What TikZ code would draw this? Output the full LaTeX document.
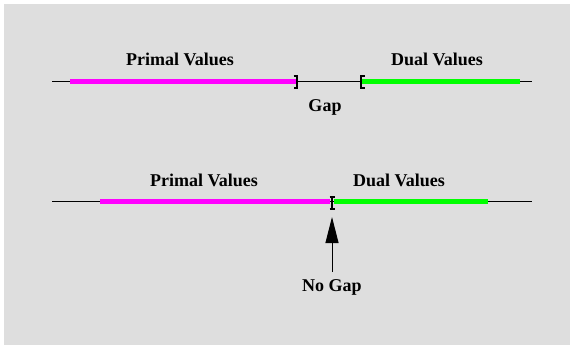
\documentclass[tikz,border=0pt]{standalone}
\usepackage{fontspec}
\setmainfont{Liberation Serif}
\usetikzlibrary{arrows.meta}
\definecolor{bg}{RGB}{222,222,222}
\definecolor{prim}{RGB}{255,0,255}
\definecolor{dualc}{RGB}{0,255,0}
\begin{document}
\begin{tikzpicture}[x=1pt,y=-1pt,
  lbl/.style={font=\fontsize{18}{20}\selectfont\bfseries, inner sep=0pt, text=black},
  axis/.style={draw=black, line width=1.5pt},
  primseg/.style={draw=prim, line width=5pt},
  dualseg/.style={draw=dualc, line width=5pt},
  brk/.style={draw=black, line width=2pt}]
\useasboundingbox (0,0) rectangle (570,345);
\fill[bg] (4,4) rectangle (570,345);
% top line
\coordinate (a1) at (52,81.5);
\coordinate (a2) at (532,81.5);
\coordinate (p1) at (70,81.5);
\coordinate (p2) at (296,81.5);
\coordinate (d1) at (362,81.5);
\coordinate (d2) at (520,81.5);
\draw[axis] (a1) -- (a2);
\draw[primseg] (p1) -- (p2);
\draw[dualseg] (d1) -- (d2);
\draw[brk] (293.5,76) -- (297,76) -- (297,88) -- (293.5,88);
\draw[brk] (364.5,76) -- (361,76) -- (361,88) -- (364.5,88);
\node[lbl] (pv1) at (180,59) {Primal Values};
\node[lbl] (dv1) at (437,59) {Dual Values};
\node[lbl] (gap) at (325,107) {Gap};
% bottom line
\coordinate (b1) at (52,201.5);
\coordinate (b2) at (532,201.5);
\coordinate (q1) at (100,201.5);
\coordinate (q2) at (330,201.5);
\coordinate (e1) at (334,201.5);
\coordinate (e2) at (488,201.5);
\draw[axis] (b1) -- (b2);
\draw[primseg] (q1) -- (q2);
\draw[dualseg] (e1) -- (e2);
\draw[brk] (329.5,197) -- (334.5,197);
\draw[brk] (332,197) -- (332,209);
\draw[brk] (329.5,209) -- (334.5,209);
\node[lbl] (pv2) at (204,180) {Primal Values};
\node[lbl] (dv2) at (399,180) {Dual Values};
\node[lbl] (nogap) at (332,287) {No Gap};
\coordinate (tip) at (332,217);
\coordinate (tail) at (332,272);
\draw[line width=1pt, -{Triangle[length=26pt,width=13pt]}] (tail) -- (tip);
\end{tikzpicture}
\end{document}
